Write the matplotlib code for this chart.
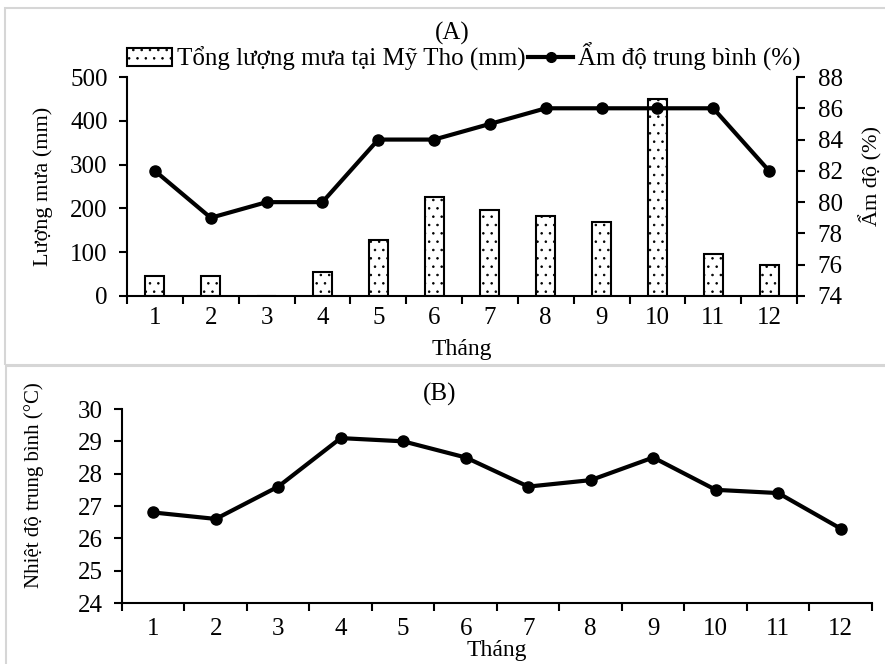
import matplotlib.pyplot as plt
from matplotlib.patches import Rectangle
from matplotlib.lines import Line2D

months = list(range(1, 13))
month_labels = [str(m) for m in months]
rainfall_mm = [45, 45, 0, 55, 128, 225, 197, 182, 170, 450, 97, 70]
humidity_pct = [82, 79, 80, 80, 84, 84, 85, 86, 86, 86, 86, 82]
temperature_c = [26.8, 26.6, 27.6, 29.1, 29.0, 28.5, 27.6, 27.8, 28.5, 27.5, 27.4, 26.3]

W, H = 885, 664
plt.rcParams["font.family"] = ["Liberation Serif", "DejaVu Serif"]
plt.rcParams["hatch.linewidth"] = 0.6

fig = plt.figure(figsize=(W / 100, H / 100), dpi=100)


def frac(x0, y0, x1, y1):
    # pixel box -> figure fraction [left, bottom, width, height]
    return [x0 / W, 1 - y1 / H, (x1 - x0) / W, (y1 - y0) / H]


# light grey panel frames
fig.add_artist(Rectangle((5 / W, 1 - 365 / H), 1, (365 - 8) / H, transform=fig.transFigure,
                         fill=False, edgecolor="#d6d6d6", linewidth=1.5))
fig.add_artist(Rectangle((6 / W, -0.01), 1, (1 - 366 / H) + 0.01, transform=fig.transFigure,
                         fill=False, edgecolor="#d6d6d6", linewidth=1.5))

TICK_FS = 18
LABEL_FS = 17


def style_axis(ax, xpad=8):
    ax.set_xlim(0.5, 12.5)
    ax.set_xticks(months)
    ax.set_xticklabels(month_labels)
    ax.set_xticks([m + 0.5 for m in range(0, 13)], minor=True)
    ax.tick_params(axis="x", which="major", length=0, pad=xpad, labelsize=TICK_FS)
    ax.tick_params(axis="x", which="minor", length=6, width=1.5, direction="out")
    ax.tick_params(axis="y", length=6, width=1.5, direction="out", labelsize=TICK_FS, pad=8)
    for side in ("top", "right"):
        ax.spines[side].set_visible(False)
    for side in ("left", "bottom"):
        ax.spines[side].set_linewidth(1.5)


# ---- Panel A ----
axA = fig.add_axes(frac(127, 77, 797, 296))
style_axis(axA)
axA.bar(months, rainfall_mm, width=0.34, facecolor="white", edgecolor="black",
        linewidth=1.5, hatch="..", zorder=2)
axA.set_ylim(0, 500)
axA.set_yticks(range(0, 501, 100))
axA.set_ylabel("Lượng mưa (mm)", fontsize=16, labelpad=12)
axA.set_xlabel("Tháng", fontsize=LABEL_FS, labelpad=7)

axA2 = axA.twinx()
axA2.plot(months, humidity_pct, color="black", linewidth=3, marker="o", markersize=8, zorder=3)
axA2.set_ylim(74, 88)
axA2.set_yticks(range(74, 89, 2))
axA2.spines["top"].set_visible(False)
axA2.spines["left"].set_visible(False)
axA2.spines["bottom"].set_visible(False)
axA2.spines["right"].set_linewidth(1.5)
axA2.tick_params(axis="y", length=6, width=1.5, direction="out", labelsize=TICK_FS, pad=9)
axA2.set_ylabel("Ẩm độ (%)", fontsize=16)
axA2.yaxis.set_label_coords(1.0925, 0.548)

fig.text(452 / W, 1 - 33 / H, "(A)", ha="center", va="center", fontsize=18)
handles = [
    Rectangle((0, 0), 1, 1, facecolor="white", edgecolor="black", hatch="..", linewidth=1.5),
    Line2D([0], [0], color="black", linewidth=3, marker="o", markersize=7),
]
fig.legend(handles, ["Tổng lượng mưa tại Mỹ Tho (mm)", "Ẩm độ trung bình (%)"],
           loc="center", bbox_to_anchor=(464 / W, 1 - 57 / H), ncol=2, frameon=False,
           fontsize=18, handlelength=1.8, handletextpad=0.2, columnspacing=0.1,
           borderaxespad=0)

# ---- Panel B ----
axB = fig.add_axes(frac(122, 409, 872, 603))
style_axis(axB, xpad=11)
axB.plot(months, temperature_c, color="black", linewidth=3, marker="o", markersize=8)
axB.set_ylim(24, 30)
axB.set_yticks(range(24, 31))
axB.set_ylabel("Nhiệt độ trung bình (°C)", fontsize=15)
axB.yaxis.set_label_coords(-0.104, 0.61)
axB.set_xlabel("Tháng", fontsize=LABEL_FS, labelpad=0)
fig.text(440 / W, 1 - 394 / H, "(B)", ha="center", va="center", fontsize=18)

fig.savefig("out.png", dpi=100)
